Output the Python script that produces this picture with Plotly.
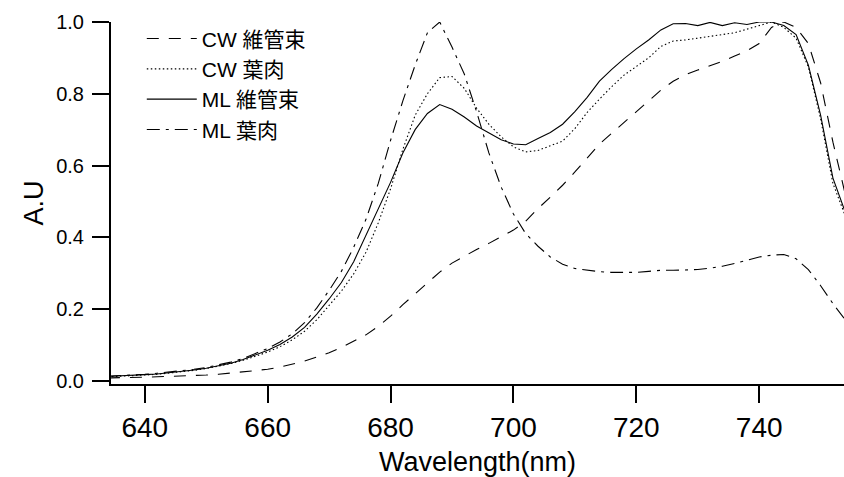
import plotly.graph_objects as go

wavelength = [634, 636, 638, 640, 642, 644, 646, 648, 650, 652, 654, 656, 658, 660,
              662, 664, 666, 668, 670, 672, 674, 676, 678, 680, 682, 684, 686, 688,
              690, 692, 694, 696, 698, 700, 702, 704, 706, 708, 710, 712, 714, 716,
              718, 720, 722, 724, 726, 728, 730, 732, 734, 736, 738, 740, 742, 744,
              746, 748, 750, 752, 754]

cw_vascular = [0.008, 0.008, 0.009, 0.010, 0.011, 0.012, 0.013, 0.015, 0.016, 0.018,
               0.021, 0.024, 0.028, 0.032, 0.038, 0.046, 0.055, 0.066, 0.078, 0.093,
               0.110, 0.128, 0.152, 0.180, 0.212, 0.243, 0.273, 0.303, 0.328, 0.348,
               0.366, 0.383, 0.402, 0.420, 0.445, 0.480, 0.512, 0.545, 0.582, 0.622,
               0.660, 0.690, 0.720, 0.750, 0.780, 0.810, 0.835, 0.853, 0.866, 0.878,
               0.890, 0.905, 0.920, 0.940, 0.985, 1.000, 0.985, 0.940, 0.830, 0.665,
               0.520]

cw_mesophyll = [0.011, 0.012, 0.014, 0.016, 0.018, 0.021, 0.025, 0.029, 0.034, 0.040,
                0.048, 0.057, 0.068, 0.080, 0.095, 0.114, 0.138, 0.170, 0.210, 0.250,
                0.298, 0.358, 0.440, 0.535, 0.645, 0.740, 0.800, 0.845, 0.848, 0.815,
                0.760, 0.715, 0.680, 0.652, 0.638, 0.642, 0.655, 0.668, 0.703, 0.748,
                0.785, 0.820, 0.852, 0.875, 0.900, 0.932, 0.947, 0.950, 0.955, 0.960,
                0.964, 0.970, 0.980, 0.990, 1.000, 0.985, 0.955, 0.875, 0.730, 0.550,
                0.460]

ml_vascular = [0.012, 0.013, 0.015, 0.017, 0.019, 0.022, 0.026, 0.030, 0.035, 0.041,
               0.049, 0.059, 0.071, 0.085, 0.101, 0.122, 0.149, 0.186, 0.228, 0.274,
               0.332, 0.405, 0.478, 0.553, 0.635, 0.700, 0.745, 0.770, 0.757, 0.735,
               0.710, 0.690, 0.672, 0.660, 0.658, 0.675, 0.692, 0.715, 0.750, 0.790,
               0.835, 0.868, 0.898, 0.925, 0.950, 0.978, 0.995, 0.996, 0.990, 0.999,
               0.990, 0.998, 0.993, 1.000, 1.000, 0.990, 0.965, 0.880, 0.740, 0.565,
               0.470]

ml_mesophyll = [0.013, 0.014, 0.016, 0.018, 0.021, 0.024, 0.028, 0.032, 0.037, 0.044,
                0.052, 0.062, 0.075, 0.090, 0.108, 0.131, 0.162, 0.203, 0.252, 0.305,
                0.372, 0.450, 0.550, 0.670, 0.780, 0.880, 0.970, 1.000, 0.930, 0.855,
                0.750, 0.635, 0.540, 0.465, 0.410, 0.375, 0.345, 0.325, 0.313, 0.308,
                0.304, 0.302, 0.301, 0.302, 0.305, 0.308, 0.308, 0.308, 0.310, 0.314,
                0.319, 0.327, 0.337, 0.345, 0.350, 0.352, 0.340, 0.310, 0.265, 0.215,
                0.170]

series_names = ["CW 維管束", "CW 葉肉", "ML 維管束", "ML 葉肉"]
series_values = [cw_vascular, cw_mesophyll, ml_vascular, ml_mesophyll]
dashes = ["12px,10px", "1.5px,2.5px", "solid", "13px,6px,3px,6px"]

x_tick_values = [640, 660, 680, 700, 720, 740]
y_tick_values = [0.0, 0.2, 0.4, 0.6, 0.8, 1.0]
y_tick_labels = ["0.0", "0.2", "0.4", "0.6", "0.8", "1.0"]

fig = go.Figure()
for name, vals, dash in zip(series_names, series_values, dashes):
    fig.add_trace(go.Scatter(
        x=wavelength, y=vals, mode="lines", name=name,
        line=dict(color="black", width=1.1, dash=dash),
    ))

base_family = "Liberation Sans, Noto Sans CJK JP, sans-serif"
x_tick_font = dict(family=base_family, size=28, color="black")

fig.update_layout(
    width=844, height=477,
    margin=dict(l=111, r=0, t=22, b=93),
    paper_bgcolor="white", plot_bgcolor="white",
    showlegend=True,
    legend=dict(
        x=0.042, y=1.01, xanchor="left", yanchor="top",
        bgcolor="rgba(0,0,0,0)",
        font=dict(family=base_family, size=21, color="black"),
        itemwidth=50, tracegroupgap=0,
    ),
    xaxis=dict(
        range=[634.5, 753.8], tickvals=x_tick_values,
        showgrid=False, zeroline=False,
        showline=True, linecolor="black", linewidth=2,
        ticks="outside", ticklen=17, tickwidth=2, tickcolor="black",
        tickfont=x_tick_font,
        title=dict(text="Wavelength(nm)", font=dict(family=base_family, size=27, color="black"), standoff=15),
    ),
    yaxis=dict(
        range=[-0.009, 1.0], tickvals=y_tick_values, ticktext=y_tick_labels,
        showgrid=False, zeroline=False,
        showline=True, linecolor="black", linewidth=2,
        ticks="outside", ticklen=17, tickwidth=2, tickcolor="black",
        ticklabelstandoff=4,
        tickfont=dict(family=base_family, size=20, color="black"),
        title=dict(text="A.U", font=dict(family=base_family, size=27, color="black"), standoff=5),
    ),
)

fig.write_html(
    "out.html",
    config={"displayModeBar": False},
    post_script="document.body.style.margin='0';document.body.style.overflow='hidden';",
)
